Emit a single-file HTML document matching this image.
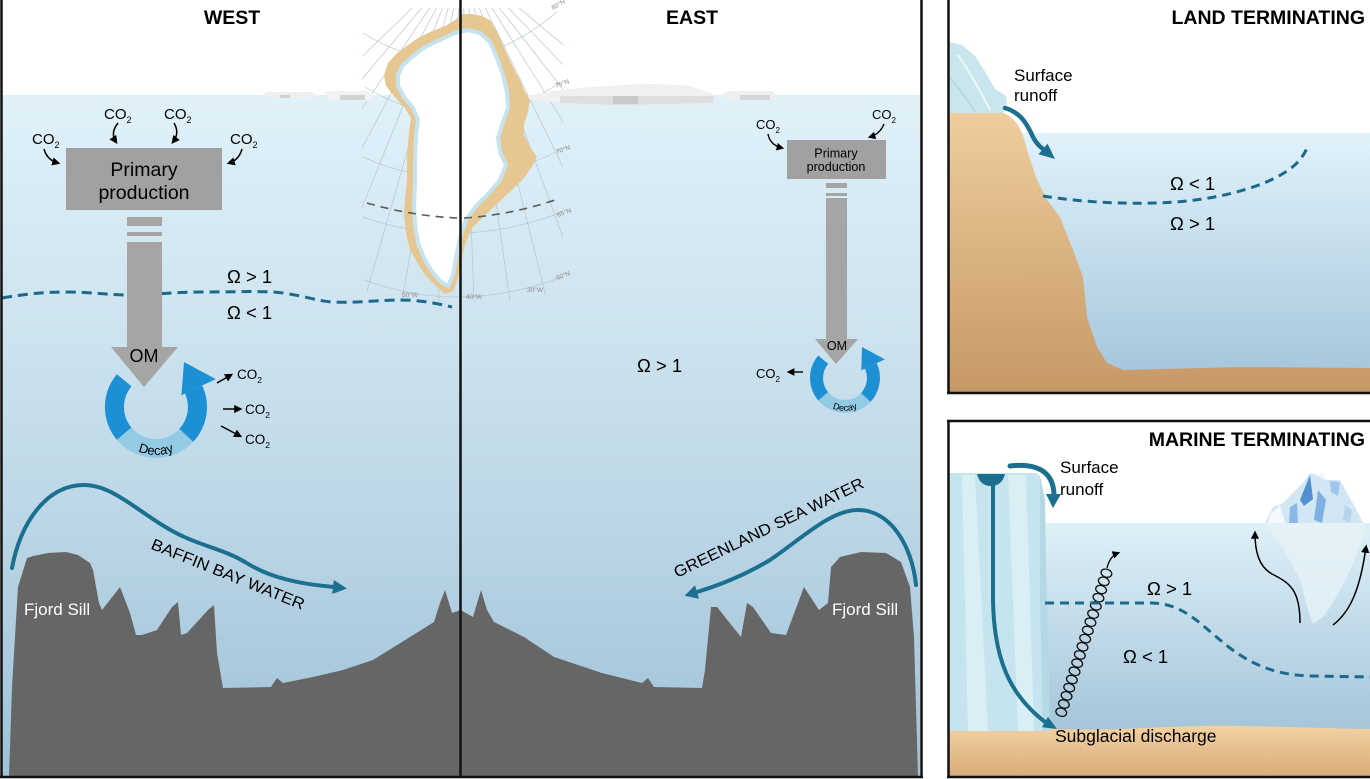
<!DOCTYPE html>
<html><head><meta charset="utf-8">
<style>
html,body{margin:0;padding:0;background:#fff;}
svg{display:block;font-family:"Liberation Sans",Arial,sans-serif;}
</style></head><body>
<svg width="1370" height="779" viewBox="0 0 1370 779" xmlns="http://www.w3.org/2000/svg">
<defs>
 <linearGradient id="wm" x1="0" y1="95" x2="0" y2="777" gradientUnits="userSpaceOnUse">
  <stop offset="0" stop-color="#e0f1f9"/>
  <stop offset="0.30" stop-color="#d0e5f0"/>
  <stop offset="0.59" stop-color="#bed8e7"/>
  <stop offset="1" stop-color="#9ec1d8"/>
 </linearGradient>
 <linearGradient id="wl" x1="0" y1="133" x2="0" y2="372" gradientUnits="userSpaceOnUse">
  <stop offset="0" stop-color="#e1f2fa"/>
  <stop offset="1" stop-color="#a6c7dc"/>
 </linearGradient>
 <linearGradient id="wr" x1="0" y1="523" x2="0" y2="732" gradientUnits="userSpaceOnUse">
  <stop offset="0" stop-color="#dff0f8"/>
  <stop offset="1" stop-color="#a4c5da"/>
 </linearGradient>
 <linearGradient id="land" x1="0" y1="113" x2="0" y2="393" gradientUnits="userSpaceOnUse">
  <stop offset="0" stop-color="#efcd9e"/>
  <stop offset="1" stop-color="#c69866"/>
 </linearGradient>
 <linearGradient id="sand" x1="0" y1="725" x2="0" y2="777" gradientUnits="userSpaceOnUse">
  <stop offset="0" stop-color="#f3d2a2"/>
  <stop offset="1" stop-color="#d8ab7a"/>
 </linearGradient>
 <clipPath id="mapc"><rect x="362" y="8" width="201" height="294"/></clipPath>
 <clipPath id="lp"><rect x="949" y="0" width="421" height="392"/></clipPath>
 <clipPath id="mp"><rect x="949" y="422" width="421" height="354"/></clipPath>
 <marker id="ah" viewBox="0 0 10 10" refX="7" refY="5" markerWidth="5.5" markerHeight="5.5" orient="auto"><path d="M0,0 L10,5 L0,10 z" fill="#000"/></marker>
</defs>

<!-- ========== MAIN PANEL ========== -->
<rect x="2" y="95" width="918" height="682" fill="url(#wm)"/>

<!-- Greenland map -->
<g clip-path="url(#mapc)" stroke="#b8c5cc" stroke-width="0.7" fill="none">
 <g transform="translate(462,-40)">
  <line x1="0" y1="40" x2="0" y2="345" transform="rotate(-50)"/>
  <line x1="0" y1="40" x2="0" y2="345" transform="rotate(-44)"/>
  <line x1="0" y1="40" x2="0" y2="345" transform="rotate(-38)"/>
  <line x1="0" y1="40" x2="0" y2="345" transform="rotate(-32)"/>
  <line x1="0" y1="40" x2="0" y2="345" transform="rotate(-26)"/>
  <line x1="0" y1="40" x2="0" y2="345" transform="rotate(-20)"/>
  <line x1="0" y1="40" x2="0" y2="345" transform="rotate(-14)"/>
  <line x1="0" y1="40" x2="0" y2="345" transform="rotate(-8)"/>
  <line x1="0" y1="40" x2="0" y2="345" transform="rotate(-2)"/>
  <line x1="0" y1="40" x2="0" y2="345" transform="rotate(4)"/>
  <line x1="0" y1="40" x2="0" y2="345" transform="rotate(10)"/>
  <line x1="0" y1="40" x2="0" y2="345" transform="rotate(16)"/>
  <line x1="0" y1="40" x2="0" y2="345" transform="rotate(22)"/>
  <line x1="0" y1="40" x2="0" y2="345" transform="rotate(28)"/>
  <line x1="0" y1="40" x2="0" y2="345" transform="rotate(34)"/>
  <line x1="0" y1="40" x2="0" y2="345" transform="rotate(40)"/>
  <line x1="0" y1="40" x2="0" y2="345" transform="rotate(46)"/>
 </g>
 <path d="M363,33 Q460,93.5 557,12"/>
 <path d="M365,87 Q460,145 560,83"/>
 <path d="M363,157 Q460,200.5 560,150"/>
 <path d="M363,217 Q460,251.5 562,212"/>
 <path d="M365,280 Q460,315.5 562,277"/>
</g>
<polygon fill="#e6c792" points="408,45 418,38 430,32 445,26 455,20 463,14 472,14 482,16 490,20 497,32 505,50 513,67 520,80 524,90 530,100 528,112 524,124 524,135 530,147 537,157 533,165 524,178 512,190 498,203 485,215 472,228 465,245 461,262 458,278 453,291 445,294 435,285 425,275 418,264 410,250 406,233 404,215 405,200 407,180 407,157 409,133 411,118 405,108 394,96 386,86 384,75 388,63 396,54"/>
<polygon fill="#ffffff" stroke="#c6e3f0" stroke-width="4" stroke-linejoin="round" points="412,57 425,47 440,40 455,33 468,30 480,33 490,42 497,58 503,75 507,92 508,108 503,122 498,138 500,152 506,165 500,180 488,194 476,206 466,220 460,238 456,258 453,275 448,286 440,281 431,270 424,258 418,243 415,225 414,205 415,185 415,160 416,135 418,120 413,108 404,97 398,86 398,75 403,65"/>
<path d="M367,203 Q412,216 457,218" stroke="#5a5a5a" stroke-width="1.6" fill="none" stroke-dasharray="8 6"/>
<path d="M464,218 Q510,215 555,200" stroke="#5a5a5a" stroke-width="1.6" fill="none" stroke-dasharray="8 6"/>
<g font-size="6.5" fill="#8a8a8a">
 <text x="553" y="10" transform="rotate(-30 553 10)">80°N</text>
 <text x="556" y="88" transform="rotate(-20 556 88)">75°N</text>
 <text x="557" y="154" transform="rotate(-20 557 154)">70°N</text>
 <text x="558" y="217" transform="rotate(-20 558 217)">65°N</text>
 <text x="557" y="280" transform="rotate(-20 557 280)">60°N</text>
 <text x="402" y="297">50°W</text>
 <text x="466" y="299">40°W</text>
 <text x="527" y="292">30°W</text>
</g>

<!-- ice floes -->
<polygon fill="#efefef" points="264,94 267,92 312,92 315,94 313,98 290,98 267,97"/>
<rect x="280" y="95" width="10" height="3" fill="#cfcfcf"/>
<polygon fill="#f2f2f2" points="324,93 330,91 366,91 372,93 370,101 330,100"/>
<rect x="340" y="95" width="25" height="5" fill="#d3d3d3"/>
<path d="M527,96 Q560,88 610,86 Q650,82 690,86 L715,95 L713,103 L620,105 L560,103 L530,100 Z" fill="#f0f0f0"/>
<path d="M560,96 L714,96 L713,103 L620,105 L560,103 Z" fill="#dedede"/>
<rect x="613" y="96" width="25" height="8" fill="#c9c9c9"/>
<polygon fill="#efefef" points="723,93 728,91 772,91 776,94 774,100 726,100"/>
<rect x="740" y="95" width="30" height="5" fill="#d6d6d6"/>

<!-- WEST: omega dashed line -->
<path d="M2,298 C25,294 45,292 67,292 C90,292 110,295 127,295 C150,295 175,292 200,292 C235,292 255,291 273,292 C300,294 315,301 333,302 C360,303 380,300 400,300 C420,300 435,303 452,307" stroke="#1b6a8c" stroke-width="3" fill="none" stroke-dasharray="10 6"/>
<text x="227" y="283" font-size="18.5">Ω &gt; 1</text>
<text x="227" y="319" font-size="18.5">Ω &lt; 1</text>

<!-- WEST primary production -->
<rect x="66" y="148" width="156" height="62" fill="#a1a1a1"/>
<text x="144" y="176" font-size="19.5" text-anchor="middle">Primary</text>
<text x="144" y="199" font-size="19.5" text-anchor="middle">production</text>
<g font-size="15">
 <text x="32" y="144">CO<tspan font-size="9" dy="4">2</tspan></text>
 <text x="104" y="119">CO<tspan font-size="9" dy="4">2</tspan></text>
 <text x="164" y="119">CO<tspan font-size="9" dy="4">2</tspan></text>
 <text x="230" y="144">CO<tspan font-size="9" dy="4">2</tspan></text>
</g>
<g stroke="#000" stroke-width="1.5" fill="none" marker-end="url(#ah)">
 <path d="M44,149 Q47,160 58,163"/>
 <path d="M118,123 Q110,133 116,142"/>
 <path d="M174,123 Q180,133 173,142"/>
 <path d="M242,149 Q239,160 229,163"/>
</g>
<rect x="127" y="217" width="35" height="9" fill="#a5a5a5"/>
<rect x="127" y="232" width="35" height="4" fill="#a5a5a5"/>
<!-- decay ring west -->
<path d="M124.2,380.3 A41.5,41.5 0 0 0 124.2,433.7" stroke="#1d8fd5" stroke-width="19" fill="none"/>
<path d="M124.2,433.7 A41.5,41.5 0 0 0 186.3,435.3" stroke="#93cbe5" stroke-width="19" fill="none"/>
<path d="M186.3,435.3 A41.5,41.5 0 0 0 193.6,389.5" stroke="#1d8fd5" stroke-width="19" fill="none"/>
<polygon points="181.4,395.2 215.8,379.1 184,362" fill="#1d8fd5"/>
<path id="dw" d="M115,431 A47,47 0 0 0 197,431" fill="none"/>
<text font-size="13"><textPath href="#dw" startOffset="50%" text-anchor="middle">Decay</textPath></text>
<!-- OM arrow west -->
<rect x="127" y="242" width="35" height="106" fill="#a5a5a5"/>
<polygon points="111,347 178,347 144,387" fill="#a5a5a5"/>
<text x="144" y="362" font-size="18" text-anchor="middle">OM</text>
<g font-size="13.5">
 <text x="237" y="379">CO<tspan font-size="8.5" dy="4">2</tspan></text>
 <text x="245" y="414">CO<tspan font-size="8.5" dy="4">2</tspan></text>
 <text x="245" y="444">CO<tspan font-size="8.5" dy="4">2</tspan></text>
</g>
<g stroke="#000" stroke-width="1.5" fill="none" marker-end="url(#ah)">
 <path d="M217,383 L231,375"/>
 <path d="M223,409 L240,409"/>
 <path d="M221,426 L240,436"/>
</g>

<!-- EAST primary production -->
<rect x="787" y="140" width="99" height="39" fill="#a1a1a1"/>
<text x="836" y="157.5" font-size="12.6" text-anchor="middle">Primary</text>
<text x="836" y="171" font-size="12.6" text-anchor="middle">production</text>
<g font-size="13">
 <text x="756" y="129">CO<tspan font-size="8" dy="4">2</tspan></text>
 <text x="872" y="119">CO<tspan font-size="8" dy="4">2</tspan></text>
 <text x="756" y="378">CO<tspan font-size="8" dy="4">2</tspan></text>
</g>
<g stroke="#000" stroke-width="1.4" fill="none" marker-end="url(#ah)">
 <path d="M768,134 Q770,145 782,148"/>
 <path d="M884,124 Q880,134 870,137"/>
 <path d="M803,372 L789,372"/>
</g>
<rect x="826" y="183" width="21" height="5" fill="#a5a5a5"/>
<rect x="826" y="193" width="21" height="3" fill="#a5a5a5"/>
<path d="M823.2,359.7 A28.5,28.5 0 0 0 823.2,396.3" stroke="#1d8fd5" stroke-width="13" fill="none"/>
<path d="M823.2,396.3 A28.5,28.5 0 0 0 865.8,397.4" stroke="#93cbe5" stroke-width="13" fill="none"/>
<path d="M865.8,397.4 A28.5,28.5 0 0 0 870.8,366" stroke="#1d8fd5" stroke-width="13" fill="none"/>
<polygon points="861.3,370.4 884.9,359.4 862,347" fill="#1d8fd5"/>
<path id="de" d="M816.8,394.5 A32.5,32.5 0 0 0 873.2,394.5" fill="none"/>
<text font-size="9"><textPath href="#de" startOffset="50%" text-anchor="middle">Decay</textPath></text>
<rect x="826" y="198" width="21" height="142" fill="#a5a5a5"/>
<polygon points="815,339 858,339 836,364" fill="#a5a5a5"/>
<text x="837" y="350" font-size="12.5" text-anchor="middle">OM</text>
<text x="637" y="372" font-size="18.5">Ω &gt; 1</text>

<!-- water flow arrows -->
<path d="M12,568 C20,525 45,485 84,485 C115,485 140,515 180,535 C205,547 225,550 245,562 C270,578 300,584 334,587" stroke="#1b6f8f" stroke-width="4" fill="none" stroke-linecap="round"/>
<polygon points="347,588.5 333.8,580 332.2,594" fill="#1b6f8f"/>
<path d="M916,585 C912,545 890,510 858,510 C830,510 800,540 770,560 C745,575 720,585 697,592" stroke="#1b6f8f" stroke-width="4" fill="none" stroke-linecap="round"/>
<polygon points="684.6,595.8 699,598.7 695,585.3" fill="#1b6f8f"/>
<text x="150" y="548.5" transform="rotate(22 150 548.5)" font-size="16" textLength="164" lengthAdjust="spacingAndGlyphs">BAFFIN BAY WATER</text>
<text x="677" y="578" transform="rotate(-25.8 677 578)" font-size="16" textLength="209" lengthAdjust="spacingAndGlyphs">GREENLAND SEA WATER</text>

<!-- mountains -->
<polygon fill="#666666" points="9,777 12,687 18,587 27,558 33,556 48,553 66,552 78,555 90,563 93,570 99,603 102,610 120,587 130,613 136,635 142,635 157,630 172,607 178,602 181,635 187,633 208,610 214,605 217,653 223,688 271,687 277,678 283,683 313,677 343,670 373,660 410,637 434,622 440,603 445,590 449,603 452,613 461,610 464,612 473,617 481,590 487,610 494,622 524,637 554,657 602,673 642,683 648,678 654,687 702,688 705,670 711,607 717,607 741,637 747,603 753,607 771,633 786,635 804,587 819,610 828,603 831,567 840,557 861,552 886,553 901,562 910,587 914,637 918,777"/>
<text x="24" y="615" font-size="17" fill="#ffffff">Fjord Sill</text>
<text x="832" y="615" font-size="17" fill="#ffffff">Fjord Sill</text>

<text x="232" y="24" font-size="19.5" font-weight="bold" text-anchor="middle">WEST</text>
<text x="692" y="24" font-size="19.5" font-weight="bold" text-anchor="middle">EAST</text>

<!-- borders main -->
<g stroke="#111" stroke-width="2.5" fill="none">
 <line x1="1.5" y1="0" x2="1.5" y2="778"/>
 <line x1="921.5" y1="0" x2="921.5" y2="778"/>
 <line x1="0" y1="777" x2="923" y2="777"/>
 <line x1="460.5" y1="0" x2="460.5" y2="777"/>
</g>

<!-- ========== LAND TERMINATING ========== -->
<g clip-path="url(#lp)">
 <rect x="1000" y="133" width="370" height="260" fill="url(#wl)"/>
 <path d="M949,113 L1003,113 C1015,117 1022,128 1027,150 L1037,180 L1047,200 L1060,217 L1073,250 L1083,277 L1087,317 L1097,347 L1107,363 L1123,370 L1240,367 L1370,368 L1370,393 L949,393 Z" fill="url(#land)"/>
 <polygon fill="#c9e6ed" points="949,42 962,45 975,56 986,73 995,89 1006,96 1007,104 1003,113 949,113"/>
 <path d="M958,55 Q975,80 990,110" stroke="#eef8fb" stroke-width="2" fill="none"/>
 <path d="M950,78 Q965,95 975,112" stroke="#b0d6e2" stroke-width="1.5" fill="none"/>
 <path d="M1005,108 C1022,113 1028,126 1033,137 C1036,143 1039,146 1043,149" stroke="#1b6f8f" stroke-width="4.5" fill="none" stroke-linecap="round"/>
 <polygon points="1055,159 1038.4,154.3 1047.6,143.8" fill="#1b6f8f"/>
 <path d="M1043,196 C1080,202 1120,204 1155,203 C1200,202 1245,193 1275,178 C1295,168 1303,158 1308,146" stroke="#1b6a8c" stroke-width="3" fill="none" stroke-dasharray="9 6"/>
 <text x="1014" y="81" font-size="17">Surface</text>
 <text x="1014" y="101" font-size="17">runoff</text>
 <text x="1170" y="190" font-size="18.5">Ω &lt; 1</text>
 <text x="1170" y="230" font-size="18.5">Ω &gt; 1</text>
 <text x="1365" y="24" font-size="19.5" font-weight="bold" text-anchor="end">LAND TERMINATING</text>
</g>
<g stroke="#111" stroke-width="2.5" fill="none">
 <line x1="948.5" y1="0" x2="948.5" y2="394"/>
 <line x1="947" y1="393" x2="1370" y2="393"/>
</g>

<!-- ========== MARINE TERMINATING ========== -->
<g clip-path="url(#mp)">
 <rect x="1040" y="523" width="330" height="215" fill="url(#wr)"/>
 <!-- iceberg -->
 <polygon fill="#e6f3f8" opacity="0.8" points="1265,523 1363,523 1366,528 1360,547 1347,577 1333,603 1323,617 1313,624 1307,607 1300,580 1290,560 1280,543"/>
 <polygon fill="#d3e6f4" points="1265,523 1273,507 1283,503 1293,493 1303,483 1310,473 1317,475 1327,480 1340,480 1347,493 1355,507 1363,523"/>
 <polygon fill="#5290d0" points="1300,500 1310,475 1313,499 1304,506"/>
 <polygon fill="#8ab8e6" points="1290,507 1297,503 1298,523 1289,523"/>
 <polygon fill="#9ec5ec" points="1330,481 1340,482 1338,496 1331,492"/>
 <polygon fill="#7fb0e0" points="1318,490 1326,500 1322,523 1314,520"/>
 <polygon fill="#b7d4ef" points="1345,505 1352,510 1350,523 1343,520"/>
 <polygon fill="#f4f9fd" points="1270,515 1280,505 1285,523 1268,523"/>
 <polygon fill="#eef5fb" points="1317,476 1322,472 1325,480"/>
 <path d="M1300,623 C1300,590 1290,583 1272,574 C1258,566 1255,550 1255,533" stroke="#000" stroke-width="1.5" fill="none" marker-end="url(#ah)"/>
 <path d="M1333,625 C1350,612 1360,590 1366,547" stroke="#000" stroke-width="1.5" fill="none" marker-end="url(#ah)"/>
 <!-- sand -->
 <path d="M949,731 C990,727 1030,728 1060,729 C1110,731 1150,727 1200,726 C1250,725 1300,728 1370,729 L1370,777 L949,777 Z" fill="url(#sand)"/>
 <!-- glacier -->
 <polygon fill="#c6e4ed" points="949,473 1036,473 1040,476 1045,500 1046,560 1048,640 1050,731 949,731"/>
 <polygon fill="#d9eff5" points="962,475 975,475 988,731 968,731"/>
 <polygon fill="#d9eff5" points="1008,475 1026,475 1034,731 1018,731"/>
 <polygon fill="#b4d9e5" points="1040,476 1045,500 1046,560 1048,640 1050,731 1043,731 1040,600"/>
 <!-- moulin -->
 <path d="M977,474 L1005,474 Q1002,486 991,486 Q980,486 977,474 Z" fill="#1b6f8f"/>
 <path d="M993,483 L993,600 C994,660 1010,695 1045,722" stroke="#1b6f8f" stroke-width="4" fill="none"/>
 <polygon points="1057,729 1042,727.2 1048,716.8" fill="#1b6f8f"/>
 <path d="M1010,466 C1035,463 1053,470 1054,494" stroke="#1b6f8f" stroke-width="5" fill="none" stroke-linecap="round"/>
 <polygon points="1053,508 1046,494 1061,494" fill="#1b6f8f"/>
 <!-- spiral -->
 <g transform="translate(1060,716) rotate(-72)" stroke="#111" stroke-width="1.3" fill="none">
  <ellipse cx="4" cy="0" rx="4" ry="5.5"/>
  <ellipse cx="12.6" cy="0" rx="4" ry="5.5"/>
  <ellipse cx="21.2" cy="0" rx="4" ry="5.5"/>
  <ellipse cx="29.8" cy="0" rx="4" ry="5.5"/>
  <ellipse cx="38.4" cy="0" rx="4" ry="5.5"/>
  <ellipse cx="47" cy="0" rx="4" ry="5.5"/>
  <ellipse cx="55.6" cy="0" rx="4" ry="5.5"/>
  <ellipse cx="64.2" cy="0" rx="4" ry="5.5"/>
  <ellipse cx="72.8" cy="0" rx="4" ry="5.5"/>
  <ellipse cx="81.4" cy="0" rx="4" ry="5.5"/>
  <ellipse cx="90" cy="0" rx="4" ry="5.5"/>
  <ellipse cx="98.6" cy="0" rx="4" ry="5.5"/>
  <ellipse cx="107.2" cy="0" rx="4" ry="5.5"/>
  <ellipse cx="115.8" cy="0" rx="4" ry="5.5"/>
  <ellipse cx="124.4" cy="0" rx="4" ry="5.5"/>
  <ellipse cx="133" cy="0" rx="4" ry="5.5"/>
  <ellipse cx="141.6" cy="0" rx="4" ry="5.5"/>
  <ellipse cx="150.2" cy="0" rx="4" ry="5.5"/>
 </g>
 <path d="M1107,568 Q1110,556 1118,553" stroke="#111" stroke-width="1.4" fill="none" marker-end="url(#ah)"/>
 <!-- dashed -->
 <path d="M1045,603 L1150,603 C1185,603 1200,625 1230,648 C1255,667 1280,675 1310,676 L1370,677" stroke="#1b6a8c" stroke-width="3" fill="none" stroke-dasharray="9 6"/>
 <text x="1060" y="473" font-size="17">Surface</text>
 <text x="1060" y="495" font-size="17">runoff</text>
 <text x="1147" y="595" font-size="18.5">Ω &gt; 1</text>
 <text x="1123" y="663" font-size="18.5">Ω &lt; 1</text>
 <text x="1055" y="742" font-size="17.5">Subglacial discharge</text>
 <text x="1365" y="446" font-size="19.5" font-weight="bold" text-anchor="end">MARINE TERMINATING</text>
</g>
<g stroke="#111" stroke-width="2.5" fill="none">
 <line x1="948.5" y1="420" x2="948.5" y2="778"/>
 <line x1="947" y1="421" x2="1370" y2="421"/>
 <line x1="947" y1="777" x2="1370" y2="777"/>
</g>
</svg>
</body></html>
